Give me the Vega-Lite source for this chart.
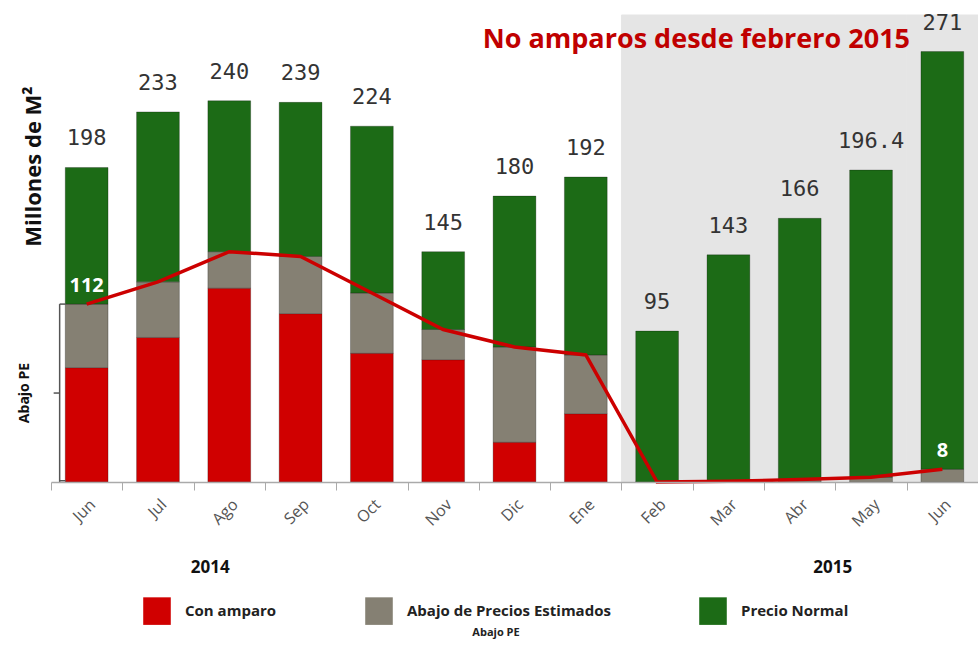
{
  "$schema": "https://vega.github.io/schema/vega-lite/v6.json",
  "autosize": "none",
  "width": 927,
  "height": 467,
  "padding": {"left": 51, "top": 15, "right": 0, "bottom": 166},
  "background": "white",
  "config": {"view": {"stroke": null}},
  "datasets": {
    "seg": [
      {"m": "Jun14", "cat": "Con amparo", "v": 72}, {"m": "Jun14", "cat": "Abajo de Precios Estimados", "v": 40}, {"m": "Jun14", "cat": "Precio Normal", "v": 86},
      {"m": "Jul14", "cat": "Con amparo", "v": 91}, {"m": "Jul14", "cat": "Abajo de Precios Estimados", "v": 35}, {"m": "Jul14", "cat": "Precio Normal", "v": 107},
      {"m": "Ago14", "cat": "Con amparo", "v": 122}, {"m": "Ago14", "cat": "Abajo de Precios Estimados", "v": 23}, {"m": "Ago14", "cat": "Precio Normal", "v": 95},
      {"m": "Sep14", "cat": "Con amparo", "v": 106}, {"m": "Sep14", "cat": "Abajo de Precios Estimados", "v": 36}, {"m": "Sep14", "cat": "Precio Normal", "v": 97},
      {"m": "Oct14", "cat": "Con amparo", "v": 81}, {"m": "Oct14", "cat": "Abajo de Precios Estimados", "v": 38}, {"m": "Oct14", "cat": "Precio Normal", "v": 105},
      {"m": "Nov14", "cat": "Con amparo", "v": 77}, {"m": "Nov14", "cat": "Abajo de Precios Estimados", "v": 19}, {"m": "Nov14", "cat": "Precio Normal", "v": 49},
      {"m": "Dic14", "cat": "Con amparo", "v": 25}, {"m": "Dic14", "cat": "Abajo de Precios Estimados", "v": 60}, {"m": "Dic14", "cat": "Precio Normal", "v": 95},
      {"m": "Ene15", "cat": "Con amparo", "v": 43}, {"m": "Ene15", "cat": "Abajo de Precios Estimados", "v": 37}, {"m": "Ene15", "cat": "Precio Normal", "v": 112},
      {"m": "Feb15", "cat": "Con amparo", "v": 0}, {"m": "Feb15", "cat": "Abajo de Precios Estimados", "v": 0}, {"m": "Feb15", "cat": "Precio Normal", "v": 95},
      {"m": "Mar15", "cat": "Con amparo", "v": 0}, {"m": "Mar15", "cat": "Abajo de Precios Estimados", "v": 0.5}, {"m": "Mar15", "cat": "Precio Normal", "v": 142.5},
      {"m": "Abr15", "cat": "Con amparo", "v": 0}, {"m": "Abr15", "cat": "Abajo de Precios Estimados", "v": 1.5}, {"m": "Abr15", "cat": "Precio Normal", "v": 164.5},
      {"m": "May15", "cat": "Con amparo", "v": 0}, {"m": "May15", "cat": "Abajo de Precios Estimados", "v": 3}, {"m": "May15", "cat": "Precio Normal", "v": 193.4},
      {"m": "Jun15", "cat": "Con amparo", "v": 0}, {"m": "Jun15", "cat": "Abajo de Precios Estimados", "v": 8}, {"m": "Jun15", "cat": "Precio Normal", "v": 263}
    ],
    "tot": [
      {"m": "Jun14", "total": 198, "abajo": 112},
      {"m": "Jul14", "total": 233, "abajo": 126},
      {"m": "Ago14", "total": 240, "abajo": 145},
      {"m": "Sep14", "total": 239, "abajo": 142},
      {"m": "Oct14", "total": 224, "abajo": 119},
      {"m": "Nov14", "total": 145, "abajo": 96},
      {"m": "Dic14", "total": 180, "abajo": 85},
      {"m": "Ene15", "total": 192, "abajo": 80},
      {"m": "Feb15", "total": 95, "abajo": 0},
      {"m": "Mar15", "total": 143, "abajo": 0.5},
      {"m": "Abr15", "total": 166, "abajo": 1.5},
      {"m": "May15", "total": 196.4, "abajo": 3},
      {"m": "Jun15", "total": 271, "abajo": 8}
    ],
    "one": [{}]
  },
  "encoding": {
    "x": {
      "field": "m", "type": "nominal", "sort": null,
      "scale": {"domain": ["Jun14","Jul14","Ago14","Sep14","Oct14","Nov14","Dic14","Ene15","Feb15","Mar15","Abr15","May15","Jun15"], "paddingInner": 0, "paddingOuter": 0},
      "axis": {
        "title": null, "labelAngle": -45, "labelExpr": "slice(datum.label, 0, 3)",
        "labelFont": "Open Sans", "labelFontSize": 16, "labelColor": "#555",
        "labelPadding": 6, "tickBand": "extent", "tickSize": 8, "tickColor": "#aaa",
        "domainColor": "#aaa", "domainWidth": 1.5, "grid": false
      }
    }
  },
  "layer": [
    {
      "data": {"name": "tot"},
      "transform": [{"filter": {"field": "m", "oneOf": ["Feb15","Mar15","Abr15","May15","Jun15"]}}],
      "mark": {"type": "rect", "color": "#e5e5e5", "stroke": "#e5e5e5", "strokeWidth": 1}
    },
    {
      "data": {"name": "seg"},
      "transform": [{"calculate": "indexof(['Con amparo','Abajo de Precios Estimados','Precio Normal'], datum.cat)", "as": "ord"}],
      "mark": {"type": "bar", "width": {"band": 0.6}, "stroke": "#000", "strokeOpacity": 0.25, "strokeWidth": 1},
      "encoding": {
        "y": {"field": "v", "type": "quantitative", "stack": "zero",
              "scale": {"domain": [0, 294], "nice": false, "zero": true},
              "axis": {"labels": false, "ticks": false, "domain": false, "grid": false,
                       "title": "Millones de M²", "titleFont": "Open Sans", "titleFontSize": 22, "titleFontWeight": "bold",
                       "titleColor": "#111", "titleAngle": 270, "titleAlign": "center", "titleBaseline": "middle",
                       "titleX": -18, "titleY": 151}},
        "order": {"field": "ord", "type": "quantitative"},
        "color": {
          "field": "cat", "type": "nominal",
          "scale": {"domain": ["Con amparo", "Abajo de Precios Estimados", "Precio Normal"], "range": ["#d00000", "#858073", "#1c6b16"]},
          "legend": {
            "orient": "none", "legendX": 92, "legendY": 582, "direction": "horizontal",
            "symbolType": "square", "symbolSize": 760, "symbolStrokeWidth": 0,
            "labelFont": "Open Sans", "labelFontSize": 15, "labelFontWeight": "bold", "labelColor": "#222",
            "labelOffset": 14, "columnPadding": 88, "labelLimit": 400,
            "title": "Abajo PE", "titleOrient": "bottom", "titleAnchor": "middle",
            "titleFont": "Open Sans", "titleFontSize": 11, "titleFontWeight": "bold", "titleColor": "#222", "titlePadding": 2,
            "encode": {"symbols": {"update": {
              "fill": {"signal": "datum.value === 'Con amparo' ? '#c00000' : datum.value === 'Precio Normal' ? '#4f6228' : '#808080'"},
              "stroke": {"value": "transparent"}, "opacity": {"value": 1}}}}
          }
        }
      }
    },
    {
      "data": {"name": "tot"},
      "mark": {"type": "line", "color": "#cc0000", "strokeWidth": 3.5},
      "encoding": {"y": {"field": "abajo", "type": "quantitative"}}
    },
    {
      "data": {"name": "tot"},
      "mark": {"type": "text", "font": "DejaVu Sans Mono", "fontSize": 22, "color": "#333", "baseline": "bottom", "dy": -17},
      "encoding": {"y": {"field": "total", "type": "quantitative"}, "text": {"field": "total", "type": "quantitative"}}
    },
    {
      "data": {"name": "tot"},
      "transform": [{"filter": {"field": "m", "oneOf": ["Jun14", "Jun15"]}}],
      "mark": {"type": "text", "font": "Open Sans", "fontSize": 20, "fontWeight": "bold", "color": "white", "baseline": "bottom", "dy": -8},
      "encoding": {"y": {"field": "abajo", "type": "quantitative"}, "text": {"field": "abajo", "type": "quantitative"}}
    },
    {
      "data": {"name": "one"},
      "mark": {"type": "text", "font": "Open Sans", "fontSize": 27, "fontWeight": "bold", "color": "#c00000", "align": "center", "baseline": "middle", "xOffset": -32},
      "encoding": {"x": {"datum": "Mar15"}, "y": {"datum": 278}, "text": {"value": "No amparos desde febrero 2015"}}
    },
    {
      "data": {"name": "one"},
      "mark": {"type": "rule", "color": "#555", "strokeWidth": 1.5, "xOffset": -27},
      "encoding": {"x": {"datum": "Jun14"}, "y": {"datum": 0}, "y2": {"datum": 112}}
    },
    {
      "data": {"name": "one"},
      "mark": {"type": "rule", "color": "#555", "strokeWidth": 1.5, "xOffset": -33, "x2Offset": -27},
      "encoding": {"x": {"datum": "Jun14"}, "x2": {"datum": "Jun14"}, "y": {"datum": 56}}
    },
    {
      "data": {"name": "one"},
      "mark": {"type": "rule", "color": "#555", "strokeWidth": 1.5, "xOffset": -27, "x2Offset": -21},
      "encoding": {"x": {"datum": "Jun14"}, "x2": {"datum": "Jun14"}, "y": {"datum": 112}}
    },
    {
      "data": {"name": "one"},
      "mark": {"type": "rule", "color": "#555", "strokeWidth": 1.5, "xOffset": -27, "x2Offset": -21},
      "encoding": {"x": {"datum": "Jun14"}, "x2": {"datum": "Jun14"}, "y": {"datum": 0.8}}
    },
    {
      "data": {"name": "one"},
      "mark": {"type": "text", "font": "Open Sans", "fontSize": 14, "fontWeight": "bold", "color": "#111", "angle": 270, "align": "center", "baseline": "middle", "xOffset": -62},
      "encoding": {"x": {"datum": "Jun14"}, "y": {"datum": 56}, "text": {"value": "Abajo PE"}}
    },
    {
      "data": {"name": "one"},
      "mark": {"type": "text", "font": "Open Sans", "fontSize": 17, "fontWeight": "bold", "color": "#111", "align": "center", "baseline": "middle", "xOffset": -19, "yOffset": 86},
      "encoding": {"x": {"datum": "Ago14"}, "y": {"datum": 0}, "text": {"value": "2014"}}
    },
    {
      "data": {"name": "one"},
      "mark": {"type": "text", "font": "Open Sans", "fontSize": 17, "fontWeight": "bold", "color": "#111", "align": "center", "baseline": "middle", "xOffset": 33, "yOffset": 86},
      "encoding": {"x": {"datum": "Abr15"}, "y": {"datum": 0}, "text": {"value": "2015"}}
    }
  ]
}
